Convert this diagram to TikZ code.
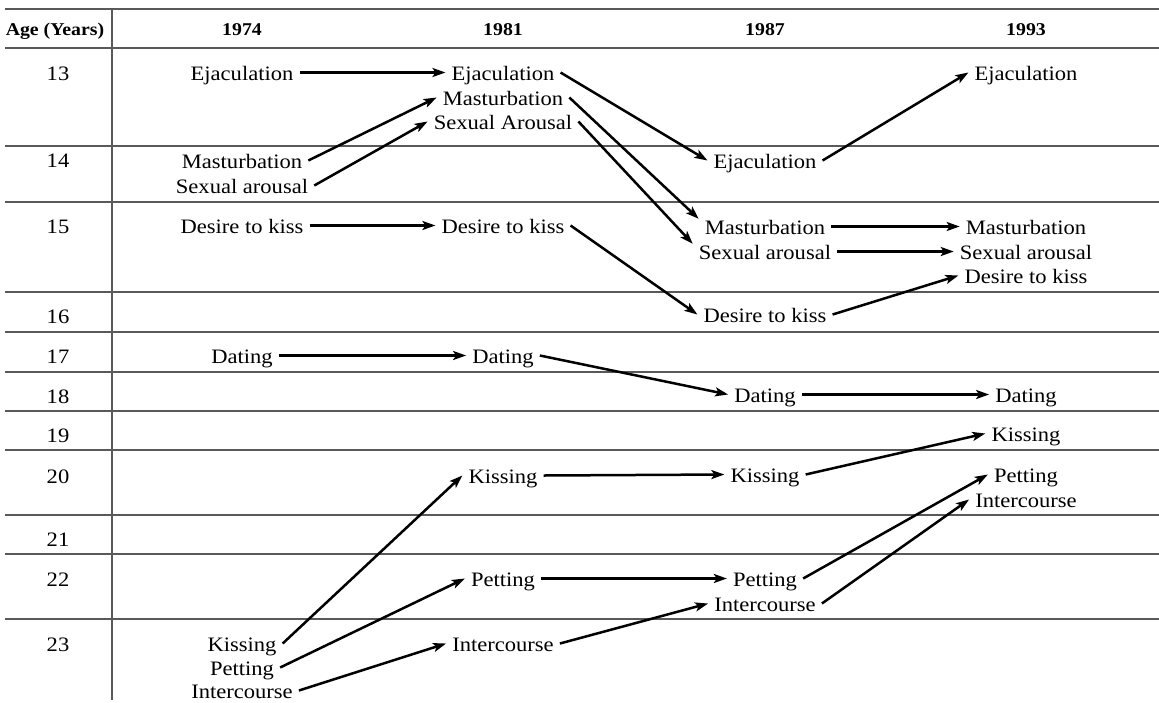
\documentclass[tikz,border=0pt]{standalone}
\usepackage{fontspec}
\setmainfont{Liberation Serif}[FakeStretch=1.1]
\usetikzlibrary{arrows.meta}

\begin{document}
\begin{tikzpicture}[
            x=1pt, y=-1pt,
            item/.style={anchor=base, inner xsep=6pt, inner ysep=0pt, text height=15pt, text depth=0pt, font=\fontsize{20.5}{24}\selectfont},
            head/.style={anchor=base, font=\fontsize{18}{21}\selectfont\bfseries},
            age/.style={anchor=base, font=\fontsize{20.5}{24}\selectfont},
            rule/.style={draw=black!65, line width=1.1pt},
            arr/.style={-{Stealth[length=13pt, width=9pt, inset=3pt]}, line width=2.5pt}
        ]
            \useasboundingbox (0,0) rectangle (1159,702);

            % table rules
            \draw[rule] (5,9) -- (1159,9);
            \draw[rule] (5,48) -- (1159,48);
            \draw[rule] (5,146) -- (1159,146);
            \draw[rule] (5,202) -- (1159,202);
            \draw[rule] (5,292) -- (1159,292);
            \draw[rule] (5,332) -- (1159,332);
            \draw[rule] (5,372) -- (1159,372);
            \draw[rule] (5,411) -- (1159,411);
            \draw[rule] (5,450) -- (1159,450);
            \draw[rule] (5,515) -- (1159,515);
            \draw[rule] (5,554) -- (1159,554);
            \draw[rule] (5,619) -- (1159,619);
            \draw[rule] (112,9) -- (112,700);

            % header
            \node[head] (hage) at (55,35) {Age (Years)};
            \node[head] (h74) at (242,35) {1974};
            \node[head] (h81) at (503,35) {1981};
            \node[head] (h87) at (765,35) {1987};
            \node[head] (h93) at (1026,35) {1993};

            % ages
            \node[age] (a13) at (58,80) {13};
            \node[age] (a14) at (58,167) {14};
            \node[age] (a15) at (58,233) {15};
            \node[age] (a16) at (58,323) {16};
            \node[age] (a17) at (58,363) {17};
            \node[age] (a18) at (58,403) {18};
            \node[age] (a19) at (58,442) {19};
            \node[age] (a20) at (58,483) {20};
            \node[age] (a21) at (58,546) {21};
            \node[age] (a22) at (58,586) {22};
            \node[age] (a23) at (58,651) {23};

            % 1974
            \node[item] (e74) at (242,80) {Ejaculation};
            \node[item] (m74) at (242,168) {Masturbation};
            \node[item] (s74) at (242,193) {Sexual arousal};
            \node[item] (d74) at (242,233) {Desire to kiss};
            \node[item] (dt74) at (242,363) {Dating};
            \node[item] (k74) at (242,651) {Kissing};
            \node[item] (p74) at (242,675) {Petting};
            \node[item] (i74) at (242,698) {Intercourse};

            % 1981
            \node[item] (e81) at (503,80) {Ejaculation};
            \node[item] (m81) at (503,105) {Masturbation};
            \node[item] (s81) at (503,129) {Sexual Arousal};
            \node[item] (d81) at (503,233) {Desire to kiss};
            \node[item] (dt81) at (503,363) {Dating};
            \node[item] (k81) at (503,483) {Kissing};
            \node[item] (p81) at (503,586) {Petting};
            \node[item] (i81) at (503,651) {Intercourse};

            % 1987
            \node[item] (e87) at (765,168) {Ejaculation};
            \node[item] (m87) at (765,234) {Masturbation};
            \node[item] (s87) at (765,259) {Sexual arousal};
            \node[item] (d87) at (765,322) {Desire to kiss};
            \node[item] (dt87) at (765,402) {Dating};
            \node[item] (k87) at (765,482) {Kissing};
            \node[item] (p87) at (765,586) {Petting};
            \node[item] (i87) at (765,611) {Intercourse};

            % 1993
            \node[item] (e93) at (1026,80) {Ejaculation};
            \node[item] (m93) at (1026,234) {Masturbation};
            \node[item] (s93) at (1026,259) {Sexual arousal};
            \node[item] (d93) at (1026,283) {Desire to kiss};
            \node[item] (dt93) at (1026,402) {Dating};
            \node[item] (k93) at (1026,441) {Kissing};
            \node[item] (p93) at (1026,482) {Petting};
            \node[item] (i93) at (1026,507) {Intercourse};

            % 1974 -> 1981
            \draw[arr] (e74.east) -- (e81.west);
            \draw[arr] (m74.east) -- (m81.west);
            \draw[arr] (s74.east) -- (s81.west);
            \draw[arr] (d74.east) -- (d81.west);
            \draw[arr] (dt74.east) -- (dt81.west);
            \draw[arr] (k74.east) -- (k81.west);
            \draw[arr] (p74.east) -- (p81.west);
            \draw[arr] (i74.east) -- (i81.west);

            % 1981 -> 1987
            \draw[arr] (e81.east) -- (e87.west);
            \draw[arr] (m81.east) -- (m87.north west);
            \draw[arr] (s81.east) -- (s87.north west);
            \draw[arr] (d81.east) -- (d87.west);
            \draw[arr] (dt81.east) -- (dt87.west);
            \draw[arr] (k81.east) -- (k87.west);
            \draw[arr] (p81.east) -- (p87.west);
            \draw[arr] (i81.east) -- (i87.west);

            % 1987 -> 1993
            \draw[arr] (e87.east) -- (e93.west);
            \draw[arr] (m87.east) -- (m93.west);
            \draw[arr] (s87.east) -- (s93.west);
            \draw[arr] (d87.east) -- (d93.west);
            \draw[arr] (dt87.east) -- (dt93.west);
            \draw[arr] (k87.east) -- (k93.west);
            \draw[arr] (p87.east) -- (p93.west);
            \draw[arr] (i87.east) -- (i93.west);
        \end{tikzpicture}
\end{document}
